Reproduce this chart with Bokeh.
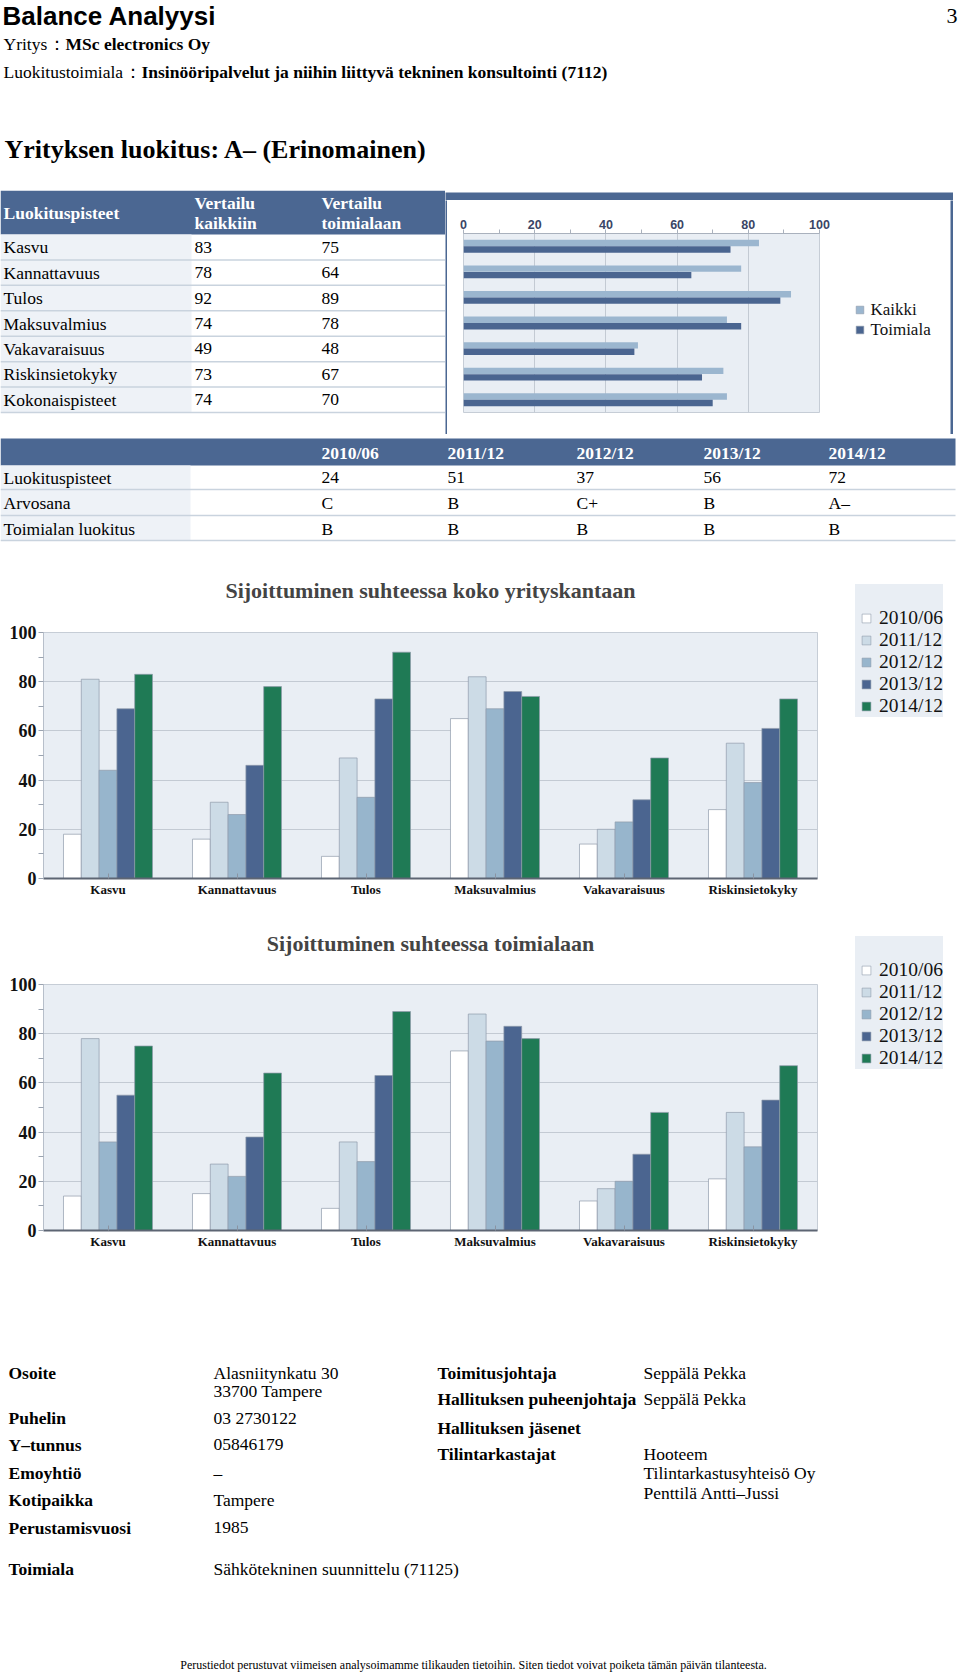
from bokeh.plotting import figure
from bokeh.layouts import column, row
from bokeh.models import (Range1d, FactorRange, FixedTicker, Legend, LegendItem,
                          ColumnDataSource)
from bokeh.transform import dodge
from bokeh.core.properties import value
from bokeh.embed import file_html
from bokeh.resources import INLINE

# ---------------- data ----------------
doc_title = "Balance Analyysi"
page_number = "3"
company_label = "Yritys"
company_name = "MSc electronics Oy"
industry_label = "Luokitustoimiala"
industry_name = "Insinööripalvelut ja niihin liittyvä tekninen konsultointi (7112)"
rating_title = "Yrityksen luokitus: A– (Erinomainen)"

score_header = ["Luokituspisteet", "Vertailu\nkaikkiin", "Vertailu\ntoimialaan"]
score_categories = ["Kasvu", "Kannattavuus", "Tulos", "Maksuvalmius",
                    "Vakavaraisuus", "Riskinsietokyky", "Kokonaispisteet"]
score_all = [83, 78, 92, 74, 49, 73, 74]
score_industry = [75, 64, 89, 78, 48, 67, 70]
score_series = ["Kaikki", "Toimiala"]

periods = ["2010/06", "2011/12", "2012/12", "2013/12", "2014/12"]
period_row_labels = ["Luokituspisteet", "Arvosana", "Toimialan luokitus"]
period_points = ["24", "51", "37", "56", "72"]
period_grades = ["C", "B", "C+", "B", "A–"]
period_industry_grades = ["B", "B", "B", "B", "B"]

bar_categories = ["Kasvu", "Kannattavuus", "Tulos", "Maksuvalmius",
                  "Vakavaraisuus", "Riskinsietokyky"]
chart1_title = "Sijoittuminen suhteessa koko yrityskantaan"
all_2010_06 = [18, 16, 9, 65, 14, 28]
all_2011_12 = [81, 31, 49, 82, 20, 55]
all_2012_12 = [44, 26, 33, 69, 23, 39]
all_2013_12 = [69, 46, 73, 76, 32, 61]
all_2014_12 = [83, 78, 92, 74, 49, 73]

chart2_title = "Sijoittuminen suhteessa toimialaan"
ind_2010_06 = [14, 15, 9, 73, 12, 21]
ind_2011_12 = [78, 27, 36, 88, 17, 48]
ind_2012_12 = [36, 22, 28, 77, 20, 34]
ind_2013_12 = [55, 38, 63, 83, 31, 53]
ind_2014_12 = [75, 64, 89, 78, 48, 67]

info_left_labels = ["Osoite", "Puhelin", "Y–tunnus", "Emoyhtiö", "Kotipaikka",
                    "Perustamisvuosi", "Toimiala"]
info_left_values = [["Alasniitynkatu 30", "33700 Tampere"], ["03 2730122"], ["05846179"],
                    ["–"], ["Tampere"], ["1985"], ["Sähkötekninen suunnittelu (71125)"]]
info_right_labels = ["Toimitusjohtaja", "Hallituksen puheenjohtaja",
                     "Hallituksen jäsenet", "Tilintarkastajat"]
info_right_values = [["Seppälä Pekka"], ["Seppälä Pekka"], [],
                     ["Hooteem", "Tilintarkastusyhteisö Oy", "Penttilä Antti–Jussi"]]
footnote = ("Perustiedot perustuvat viimeisen analysoimamme tilikauden tietoihin. "
            "Siten tiedot voivat poiketa tämän päivän tilanteesta.")

# ---------------- style ----------------
SERIF = "Liberation Serif"
SANS = "Liberation Sans"
BLUE = "#4b6792"
LIGHTCOL = "#eef2f7"
RULE = "#c9d3de"
BG = "#e9eef4"
GRID = "#c3cad3"
PERIOD_COLORS = ["#ffffff", "#ccdbe6", "#97b5cc", "#4b6590", "#1f7a55"]
SCORE_COLORS = ["#9bb6cf", "#4a6590"]
BAR_LINE = "#8f9bab"
FS = "17.5px"


def unalign(p):
    try:
        p.frame_align = False
    except Exception:
        pass
    return p


def canvas(x0, x1, y0, y1):
    p = figure(width=x1 - x0, height=y1 - y0, x_range=Range1d(x0, x1),
               y_range=Range1d(y1, y0), x_axis_type=None, y_axis_type=None,
               output_backend="svg", toolbar_location=None, min_border=0,
               outline_line_color=None, background_fill_color="white",
               border_fill_color="white")
    return unalign(p)


def blank(w, h, color):
    p = figure(width=w, height=h, x_range=Range1d(0, 1), y_range=Range1d(0, 1),
               x_axis_type=None, y_axis_type=None, output_backend="svg",
               toolbar_location=None, min_border=0, outline_line_color=None,
               background_fill_color=color, border_fill_color=color)
    return unalign(p)


def txt(p, xs, ys, texts, size=FS, bold=False, color="black", font=SERIF, align="left"):
    p.text(x=xs, y=ys, text=texts, text_font=value(font), text_font_size=value(size),
           text_font_style="bold" if bold else "normal", text_color=color,
           text_align=align, text_baseline="middle")


def legend_panel(width, height, labels, colors, values, loc, glyph, font_size, pad_title):
    """A small figure holding a legend whose proxies carry the series values (hidden)."""
    lf = blank(width, height, "white")
    items = []
    for lab, c, vals in zip(labels, colors, values):
        r = lf.scatter(x=list(range(len(vals))), y=vals, marker="square", size=8,
                       fill_color=c, line_color=BAR_LINE, line_width=0.6, visible=False)
        items.append(LegendItem(label=lab, renderers=[r]))
    kw = dict(items=items, location=loc, padding=0, margin=0, spacing=0,
              glyph_width=glyph, glyph_height=glyph, label_height=glyph, label_standoff=2,
              label_text_font=SERIF, label_text_font_size=font_size,
              label_text_color="#111111", border_line_color=None, click_policy="none")
    if pad_title:
        kw.update(title=" ", title_text_font_size="16px", title_standoff=5,
                  background_fill_color=BG, background_fill_alpha=1.0)
    else:
        kw.update(background_fill_alpha=0)
    lf.add_layout(Legend(**kw))
    return lf


# ---------------- header ----------------
H = canvas(0, 960, 0, 190)
txt(H, [2], [15], [doc_title], size="26px", bold=True, font=SANS)
txt(H, [957], [15], [page_number], size="22px", align="right")
txt(H, [3], [43], [company_label])
txt(H, [47], [43], ["："])
txt(H, [65], [43], [company_name], bold=True)
txt(H, [3], [71], [industry_label])
txt(H, [123], [71], ["："])
txt(H, [141], [71], [industry_name], bold=True)
txt(H, [4], [149], [rating_title], size="26px", bold=True)

# ---------------- score table ----------------
T = canvas(0, 445, 190, 437)
T.quad(left=[0], right=[445], top=[190], bottom=[234], fill_color=BLUE, line_color=None)
n = len(score_categories)
row_h = (412 - 234) / n
T.quad(left=[0], right=[191], top=[234], bottom=[412], fill_color=LIGHTCOL, line_color=None)
ys_rows = [234 + (i + 0.5) * row_h for i in range(n)]
rule_y = [234 + (i + 1) * row_h for i in range(n)]
T.segment(x0=[0] * n, x1=[445] * n, y0=rule_y, y1=rule_y, line_color=RULE, line_width=1.5)
hdr_x = [3, 194, 321]
txt(T, [hdr_x[0]], [212], [score_header[0]], bold=True, color="white")
for hx, h in zip(hdr_x[1:], score_header[1:]):
    a, b = h.split("\n")
    txt(T, [hx, hx], [202, 222], [a, b], bold=True, color="white")
txt(T, [3] * n, ys_rows, score_categories)
txt(T, [194] * n, ys_rows, [str(v) for v in score_all])
txt(T, [321] * n, ys_rows, [str(v) for v in score_industry])

# ---------------- horizontal bar chart ----------------
hb = figure(width=392, height=234, y_range=FactorRange(factors=score_categories[::-1]),
            x_range=Range1d(0, 100), x_axis_location="above", output_backend="svg",
            toolbar_location=None, min_border_left=16, min_border_right=20,
            min_border_top=33, min_border_bottom=22, background_fill_color=BG,
            border_fill_color="white", outline_line_color="#c6cdd6")
unalign(hb)
hsrc = ColumnDataSource(dict(cat=score_categories, a=score_all, b=score_industry))
hb.hbar(y=dodge("cat", 0.127, range=hb.y_range), left=0, right="a", height=0.25,
        fill_color=SCORE_COLORS[0], line_color=None, source=hsrc)
hb.hbar(y=dodge("cat", -0.127, range=hb.y_range), left=0, right="b", height=0.25,
        fill_color=SCORE_COLORS[1], line_color=None, source=hsrc)
xa = hb.xaxis[0]
xa.ticker = FixedTicker(ticks=[0, 20, 40, 60, 80, 100], minor_ticks=[10, 30, 50, 70, 90])
xa.major_label_text_font = SANS
xa.major_label_text_font_style = "bold"
xa.major_label_text_font_size = "12.5px"
xa.major_label_text_color = "#3a4565"
xa.axis_line_color = "#a9b1bd"
xa.major_tick_line_color = "#a9b1bd"
xa.minor_tick_line_color = "#a9b1bd"
xa.major_tick_out = 4
xa.major_tick_in = 0
xa.minor_tick_out = 4
xa.minor_tick_in = 0
xa.major_label_standoff = 1
hb.xgrid.ticker = FixedTicker(ticks=[20, 40, 60, 80])
hb.xgrid.grid_line_color = GRID
hb.ygrid.grid_line_color = None
hb.yaxis.visible = False

hleg = legend_panel(111, 234, score_series, SCORE_COLORS, [score_all, score_industry],
                    (10.5, 94.5), 19, "17px", False)

frame = column(blank(508, 10, BLUE),
               row(blank(2, 234, BLUE), hb, hleg, blank(3, 234, BLUE)),
               blank(508, 3, BLUE))

# ---------------- period table ----------------
Y = canvas(0, 960, 437, 544)
Y.quad(left=[0], right=[955], top=[438], bottom=[465], fill_color=BLUE, line_color=None)
Y.quad(left=[0], right=[190], top=[465], bottom=[540], fill_color=LIGHTCOL, line_color=None)
pr_y = [477, 502, 528]
pr_rule = [489, 515, 540]
Y.segment(x0=[0] * 3, x1=[955] * 3, y0=pr_rule, y1=pr_rule, line_color=RULE, line_width=1.5)
px = [321, 447, 576, 703, 828]
txt(Y, px, [452] * 5, periods, bold=True, color="white")
txt(Y, [3] * 3, pr_y, period_row_labels)
for yy, vals in zip(pr_y, [period_points, period_grades, period_industry_grades]):
    txt(Y, px, [yy] * 5, vals)


# ---------------- grouped bar charts ----------------
def bar_chart(title, series, standoff, legend_top):
    top = 28 + standoff
    height = top + 246 + 21
    p = figure(width=827, height=height, x_range=FactorRange(factors=bar_categories),
               y_range=Range1d(0, 100), output_backend="svg", toolbar_location=None,
               min_border_left=43, min_border_right=10, min_border_top=top,
               min_border_bottom=21, background_fill_color=BG,
               border_fill_color="white", outline_line_color="#c6cdd6")
    unalign(p)
    p.title.text = title
    p.title.align = "center"
    p.title.text_font = SERIF
    p.title.text_font_size = "22px"
    p.title.text_font_style = "bold"
    p.title.standoff = standoff
    src = ColumnDataSource(dict(cat=bar_categories, **{f"s{i}": s for i, s in enumerate(series)}))
    offs = [-0.276, -0.138, 0.0, 0.138, 0.276]
    for i, (o, c) in enumerate(zip(offs, PERIOD_COLORS)):
        p.vbar(x=dodge("cat", o, range=p.x_range), top=f"s{i}", bottom=0, width=0.138,
               fill_color=c, line_color=BAR_LINE, line_width=0.7, source=src)
    yax = p.yaxis[0]
    yax.ticker = FixedTicker(ticks=[0, 20, 40, 60, 80, 100], minor_ticks=[10, 30, 50, 70, 90])
    yax.major_label_text_font = SERIF
    yax.major_label_text_font_style = "bold"
    yax.major_label_text_font_size = "18px"
    yax.major_label_text_color = "#111111"
    yax.major_label_standoff = 2
    yax.major_tick_out = 5
    yax.major_tick_in = 0
    yax.minor_tick_out = 5
    yax.minor_tick_in = 0
    yax.axis_line_color = "#b7bfca"
    yax.major_tick_line_color = "#9aa3b0"
    yax.minor_tick_line_color = "#9aa3b0"
    p.ygrid.ticker = FixedTicker(ticks=[20, 40, 60, 80, 100])
    p.ygrid.grid_line_color = GRID
    p.xgrid.grid_line_color = None
    xax = p.xaxis[0]
    xax.major_label_text_font = SERIF
    xax.major_label_text_font_style = "bold"
    xax.major_label_text_font_size = "13px"
    xax.major_label_text_color = "#111111"
    xax.major_label_standoff = 3
    xax.axis_line_color = "#5d6573"
    xax.axis_line_width = 2
    xax.major_tick_in = 5
    xax.major_tick_out = 0
    xax.major_tick_line_color = "#8a94a3"
    lg = legend_panel(133, height, periods, PERIOD_COLORS, series,
                      (28, height - legend_top - 133), 22, "19.5px", True)
    return row(p, lg)


bc1 = bar_chart(chart1_title, [all_2010_06, all_2011_12, all_2012_12, all_2013_12, all_2014_12], 60, 40)
bc2 = bar_chart(chart2_title, [ind_2010_06, ind_2011_12, ind_2012_12, ind_2013_12, ind_2014_12], 57, 37)

# ---------------- footer ----------------
FT = canvas(0, 960, 1251, 1676)
left_y = [1372, 1417, 1444, 1472, 1499, 1527, 1568]
txt(FT, [8] * len(info_left_labels), left_y, info_left_labels, bold=True)
for yy, vals in zip(left_y, info_left_values):
    txt(FT, [213] * len(vals), [yy + 18 * k for k in range(len(vals))], vals)
right_y = [1372, 1398, 1427, 1453]
txt(FT, [437] * len(info_right_labels), right_y, info_right_labels, bold=True)
for yy, vals in zip(right_y, info_right_values):
    if vals:
        txt(FT, [643] * len(vals), [yy + 19.5 * k for k in range(len(vals))], vals)
txt(FT, [473], [1664], [footnote], size="12px", align="center")

page = column(row(H), row(T, frame), row(Y), bc1, bc2, row(FT))

open("out.html", "w").write(file_html(page, INLINE))
